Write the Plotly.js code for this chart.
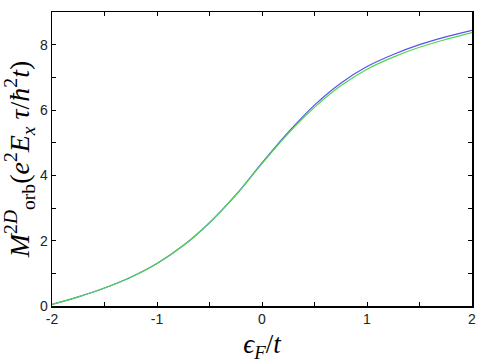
<!DOCTYPE html>
<html>
<head>
<meta charset="utf-8">
<script src="https://cdn.plot.ly/plotly-3.0.1.min.js"></script>
<style>body{margin:0;background:#fff;}</style>
</head>
<body>
<div id="plot" style="width:490px;height:363px;"></div>
<script>
// Fermi energy in units of t
let eF = [-2, -1.75, -1.5, -1.25, -1, -0.75, -0.5, -0.25, 0, 0.25, 0.5, 0.75, 1, 1.25, 1.5, 1.75, 2]
// orbital magnetization, two curves
let mBlue = [0.05, 0.28, 0.55, 0.88, 1.3, 1.85, 2.55, 3.4, 4.38, 5.32, 6.15, 6.82, 7.33, 7.7, 8.0, 8.24, 8.44]
let mGreen = [0.05, 0.28, 0.55, 0.88, 1.3, 1.85, 2.55, 3.39, 4.36, 5.28, 6.08, 6.74, 7.25, 7.62, 7.92, 8.16, 8.37]
// tick labels (plain hyphen minus as in the reference)
let xTickVals = [-2, -1, 0, 1, 2]
let xTickText = ["-2", "-1", "0", "1", "2"]

let trace1 = {
  x: eF,
  y: mBlue,
  mode: "lines",
  line: {color: "#5a50f0", width: 1.2, shape: "spline"},
  hoverinfo: "skip"
};
let trace2 = {
  x: eF,
  y: mGreen,
  mode: "lines",
  line: {color: "#4cd84c", width: 1.2, shape: "spline"},
  hoverinfo: "skip"
};

let tickFont = {family: "Liberation Sans, Arial, sans-serif", size: 14, color: "#222"};

let layout = {
  width: 490,
  height: 363,
  showlegend: false,
  paper_bgcolor: "#fff",
  plot_bgcolor: "#fff",
  margin: {l: 52, r: 18, t: 12, b: 57},
  xaxis: {
    range: [-2, 2],
    tickvals: xTickVals,
    ticktext: xTickText,
    ticks: "inside",
    ticklen: 4,
    tickcolor: "#000",
    showline: true,
    linecolor: "#000",
    linewidth: 1.5,
    mirror: "ticks",
    showgrid: false,
    zeroline: false,
    tickfont: tickFont,
    minor: {dtick: 0.5, ticks: "inside", ticklen: 4, tickcolor: "#000", showgrid: false},
    title: {text: "<i>ϵ<sub>F</sub></i>/<i>t</i>", font: {family: "Liberation Serif, DejaVu Serif, serif", size: 27, color: "#000"}, standoff: 10}
  },
  yaxis: {
    range: [0, 9],
    dtick: 2,
    tick0: 0,
    ticks: "inside",
    ticklen: 4,
    tickcolor: "#000",
    showline: true,
    linecolor: "#000",
    linewidth: 1.5,
    mirror: "ticks",
    showgrid: false,
    zeroline: false,
    tickfont: tickFont,
    minor: {dtick: 1, ticks: "inside", ticklen: 4, tickcolor: "#000", showgrid: false},
    title: {text: "<i>M</i><sup>2<i>D</i></sup><sub>orb</sub>(<i>e</i><sup>2</sup><i>E<sub>x</sub> τ</i>/<i>ħ</i><sup>2</sup><i>t</i>)", font: {family: "Liberation Serif, DejaVu Serif, serif", size: 28, color: "#000"}, standoff: 4}
  }
};

Plotly.newPlot("plot", [trace1, trace2], layout, {staticPlot: true});
</script>
</body>
</html>
